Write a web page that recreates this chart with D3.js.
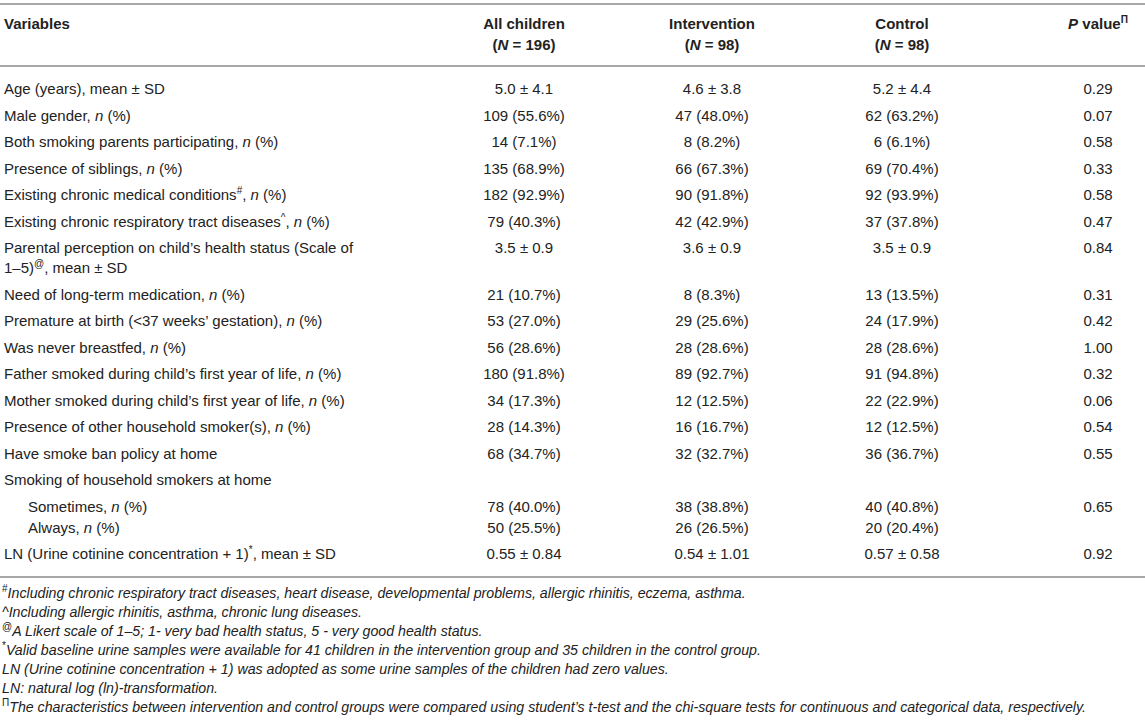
<!DOCTYPE html>
<html>
<head>
<meta charset="utf-8">
<script src="https://cdn.jsdelivr.net/npm/d3@7"></script>
<style>
  body { margin: 0; background: #fff; }
  svg { display: block; }
  text { font-family: "Liberation Sans", Arial, Helvetica, sans-serif; fill: #222; }
</style>
</head>
<body>
<script>
'use strict';

// markup: _x_ = italic, ^{x} = superscript, \n = line break
const headerTop = ["Variables", "All children", "Intervention", "Control", "_P_ value^{Π}"];
const headerSub = ["", "(_N_ = 196)", "(_N_ = 98)", "(_N_ = 98)", ""];

const variables = [
  "Age (years), mean ± SD",
  "Male gender, _n_ (%)",
  "Both smoking parents participating, _n_ (%)",
  "Presence of siblings, _n_ (%)",
  "Existing chronic medical conditions^{#}, _n_ (%)",
  "Existing chronic respiratory tract diseases^{^}, _n_ (%)",
  "Parental perception on child’s health status (Scale of\n1–5)^{@}, mean ± SD",
  "Need of long-term medication, _n_ (%)",
  "Premature at birth (<37 weeks’ gestation), _n_ (%)",
  "Was never breastfed, _n_ (%)",
  "Father smoked during child’s first year of life, _n_ (%)",
  "Mother smoked during child’s first year of life, _n_ (%)",
  "Presence of other household smoker(s), _n_ (%)",
  "Have smoke ban policy at home",
  "Smoking of household smokers at home",
  "Sometimes, _n_ (%)",
  "Always, _n_ (%)",
  "LN (Urine cotinine concentration + 1)^{*}, mean ± SD"
];
// rows that are sub-items of the row above them
const subItems = ["Sometimes, _n_ (%)", "Always, _n_ (%)"];

const allChildren = ["5.0 ± 4.1", "109 (55.6%)", "14 (7.1%)", "135 (68.9%)", "182 (92.9%)", "79 (40.3%)",
  "3.5 ± 0.9", "21 (10.7%)", "53 (27.0%)", "56 (28.6%)", "180 (91.8%)", "34 (17.3%)", "28 (14.3%)",
  "68 (34.7%)", "", "78 (40.0%)", "50 (25.5%)", "0.55 ± 0.84"];
const intervention = ["4.6 ± 3.8", "47 (48.0%)", "8 (8.2%)", "66 (67.3%)", "90 (91.8%)", "42 (42.9%)",
  "3.6 ± 0.9", "8 (8.3%)", "29 (25.6%)", "28 (28.6%)", "89 (92.7%)", "12 (12.5%)", "16 (16.7%)",
  "32 (32.7%)", "", "38 (38.8%)", "26 (26.5%)", "0.54 ± 1.01"];
const control = ["5.2 ± 4.4", "62 (63.2%)", "6 (6.1%)", "69 (70.4%)", "92 (93.9%)", "37 (37.8%)",
  "3.5 ± 0.9", "13 (13.5%)", "24 (17.9%)", "28 (28.6%)", "91 (94.8%)", "22 (22.9%)", "12 (12.5%)",
  "36 (36.7%)", "", "40 (40.8%)", "20 (20.4%)", "0.57 ± 0.58"];
const pValues = ["0.29", "0.07", "0.58", "0.33", "0.58", "0.47", "0.84", "0.31", "0.42", "1.00",
  "0.32", "0.06", "0.54", "0.55", "", "0.65", "", "0.92"];

const footnotes = [
  "^{#}Including chronic respiratory tract diseases, heart disease, developmental problems, allergic rhinitis, eczema, asthma.",
  "^Including allergic rhinitis, asthma, chronic lung diseases.",
  "^{@}A Likert scale of 1–5; 1- very bad health status, 5 - very good health status.",
  "^{*}Valid baseline urine samples were available for 41 children in the intervention group and 35 children in the control group.",
  "LN (Urine cotinine concentration + 1) was adopted as some urine samples of the children had zero values.",
  "LN: natural log (ln)-transformation.",
  "^{Π}The characteristics between intervention and control groups were compared using student’s t-test and the chi-square tests for continuous and categorical data, respectively."
];

const width = 1145, height = 727;
const columns = ["all", "intervention", "control", "p"];
const colValues = [allChildren, intervention, control, pValues];

const svg = d3.select("body").append("svg")
  .attr("width", width)
  .attr("height", height);

// column centres
const x = d3.scaleOrdinal().domain(columns).range([524, 712, 902, 1098]);

// vertical layout: normal row step, tighter step between sub-items, extra wrapped line
const rowStep = 26.5, subStep = 21, wrapStep = 20;
const rowOffsets = [];
let acc = 0;
variables.forEach((v, i) => {
  if (i > 0) {
    const prev = variables[i - 1];
    const tight = subItems.includes(v) && subItems.includes(prev);
    acc += tight ? subStep : rowStep;
    acc += (prev.split("\n").length - 1) * wrapStep;
  }
  rowOffsets.push(acc);
});
const y = d3.scaleLinear().domain([0, 1]).range([94, 95]);  // baseline of first row, 1px per unit

// write marked-up string into a text element as tspans
function richText(sel, str, supSize) {
  const parts = str.split(/(_[^_]+_|\^\{[^}]+\})/).filter((p) => p !== "");
  let shifted = false;
  for (const p of parts) {
    const t = sel.append("tspan");
    if (p.startsWith("^{")) {
      t.text(p.slice(2, -1))
        .attr("font-size", supSize)
        .attr("font-style", "normal")
        .attr("dy", shifted ? null : -6);
      shifted = true;
    } else {
      if (p.startsWith("_") && p.endsWith("_") && p.length > 2) {
        t.text(p.slice(1, -1)).attr("font-style", "italic");
      } else {
        t.text(p);
      }
      if (shifted) { t.attr("dy", 6); shifted = false; }
    }
  }
}

// rules
const rule = (yy) => svg.append("line")
  .attr("x1", 0).attr("x2", width)
  .attr("y1", yy).attr("y2", yy)
  .attr("stroke", "#a8a8a8")
  .attr("stroke-width", 2);
rule(4);
rule(66);
rule(577);

// header
const header = svg.append("g").attr("font-weight", "bold").attr("font-size", 15);
headerTop.forEach((h, i) => {
  const t = header.append("text")
    .attr("x", i === 0 ? 4 : x(columns[i - 1]))
    .attr("y", 29)
    .attr("text-anchor", i === 0 ? "start" : "middle");
  richText(t, h, 10);
});
headerSub.forEach((h, i) => {
  if (!h) return;
  const t = header.append("text")
    .attr("x", x(columns[i - 1]))
    .attr("y", 50)
    .attr("text-anchor", "middle");
  richText(t, h, 10);
});

// body
const body = svg.append("g").attr("font-size", 15);
const rows = body.selectAll("g.row")
  .data(variables)
  .join("g")
  .attr("class", "row")
  .attr("transform", (d, i) => `translate(0,${y(rowOffsets[i])})`);

rows.each(function(d, i) {
  const g = d3.select(this);
  const indent = subItems.includes(d) ? 28 : 4;
  d.split("\n").forEach((line, li) => {
    const t = g.append("text")
      .attr("x", indent)
      .attr("y", li * wrapStep);
    richText(t, line, 10);
  });
  columns.forEach((c, ci) => {
    const v = colValues[ci][i];
    if (!v) return;
    g.append("text")
      .attr("x", x(c))
      .attr("y", 0)
      .attr("text-anchor", "middle")
      .text(v);
  });
});

// footnotes
const notes = svg.append("g")
  .attr("font-size", 14.2)
  .attr("font-style", "italic");
const fy = d3.scaleLinear().domain([0, footnotes.length - 1]).range([598, 712]);
footnotes.forEach((f, i) => {
  const t = notes.append("text").attr("x", 2).attr("y", fy(i));
  richText(t, f, 10);
});
</script>
</body>
</html>
